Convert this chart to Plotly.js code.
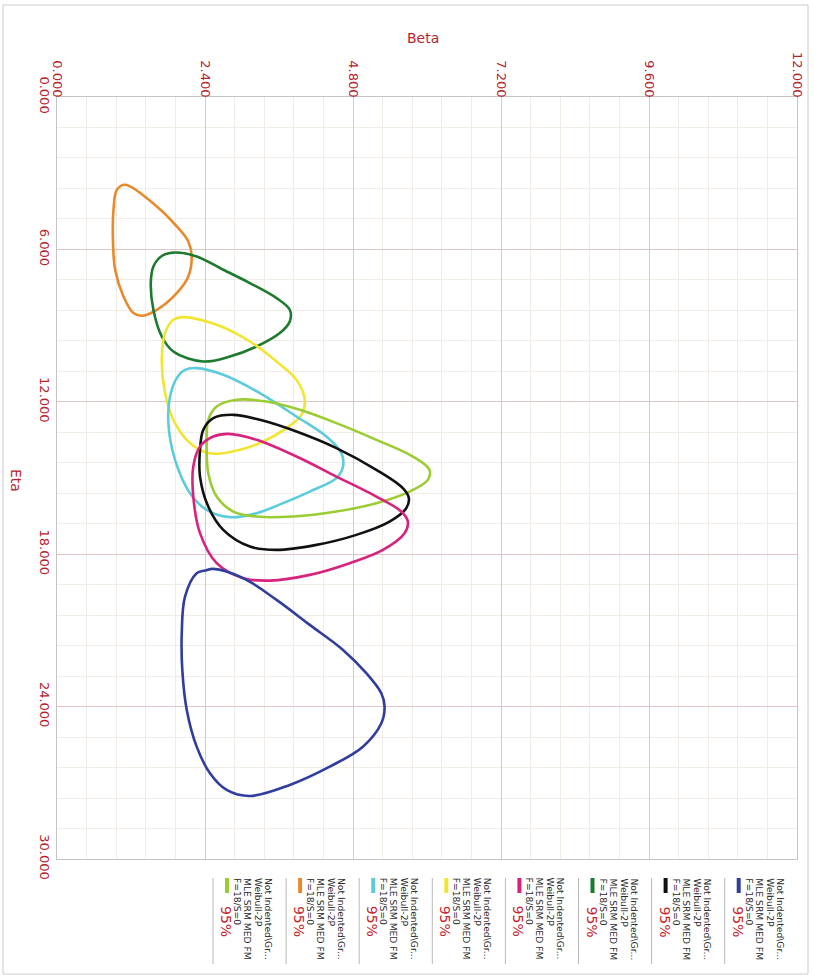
<!DOCTYPE html>
<html><head><meta charset="utf-8">
<script src="https://cdn.plot.ly/plotly-3.0.1.min.js"></script>
<style>html,body{margin:0;padding:0;background:#fff}</style>
</head><body><div id="chart" style="width:814px;height:975px"></div>
<script>
// ---- data: contour points (Beta, Eta) ----
const beta_orange = [1.105,1.618,1.942,2.129,2.184,2.129,1.942,1.618,1.375,1.239,1.078,0.943,0.906,0.916,0.971];
const eta_orange  = [3.454,4.309,5.096,5.687,6.278,7.066,7.720,8.377,8.614,8.507,7.853,6.802,5.490,4.439,3.651];

const beta_green = [1.914,2.265,2.696,3.128,3.560,3.775,3.775,3.613,3.236,2.804,2.372,1.887,1.699,1.563,1.521,1.563,1.704];
const eta_green  = [6.120,6.278,6.802,7.326,7.917,8.377,8.838,9.295,9.823,10.217,10.413,10.020,9.429,8.377,7.326,6.672,6.251];

const beta_yellow = [2.049,2.589,3.128,3.560,3.883,4.018,3.964,3.722,3.343,2.966,2.589,2.372,2.104,1.887,1.752,1.699,1.752,1.887];
const eta_yellow  = [8.665,8.968,9.626,10.413,11.134,11.922,12.513,13.037,13.564,13.891,14.049,13.958,13.497,12.710,11.658,10.347,9.295,8.771];

const beta_cyan = [2.265,2.696,3.290,3.883,4.369,4.612,4.638,4.531,4.099,3.667,3.236,2.804,2.427,2.157,1.914,1.806,1.833,1.942,2.076];
const eta_cyan  = [10.673,10.937,11.658,12.580,13.368,14.021,14.549,15.006,15.534,15.990,16.385,16.542,16.254,15.597,14.285,12.840,11.792,11.067,10.741];

const beta_lightgreen = [2.913,3.398,3.937,4.531,5.178,5.770,6.040,6.013,5.717,5.178,4.531,3.828,3.236,2.858,2.589,2.453,2.427,2.453,2.589];
const eta_lightgreen  = [11.922,11.989,12.316,12.840,13.497,14.155,14.679,15.073,15.534,15.990,16.321,16.518,16.518,16.321,15.731,14.809,13.627,12.710,12.186];

const beta_black = [2.858,3.290,3.883,4.531,5.178,5.608,5.706,5.663,5.393,4.854,4.207,3.560,3.128,2.696,2.453,2.319,2.319,2.372,2.534];
const eta_black  = [12.513,12.710,13.171,13.824,14.679,15.400,15.794,16.188,16.715,17.239,17.633,17.830,17.700,17.042,16.125,14.943,13.891,13.104,12.643];

const beta_magenta = [2.777,3.236,3.883,4.531,5.178,5.583,5.689,5.636,5.285,4.746,4.099,3.451,3.019,2.589,2.319,2.210,2.210,2.319,2.534];
const eta_magenta  = [13.261,13.497,14.155,14.943,15.731,16.321,16.715,17.172,17.830,18.354,18.814,19.039,18.944,18.354,17.172,15.731,14.549,13.761,13.368];

const beta_blue = [2.534,3.019,3.560,4.099,4.638,5.016,5.259,5.312,5.259,4.961,4.422,3.775,3.128,2.751,2.481,2.265,2.104,2.032,2.023,2.076,2.265,2.400];
const eta_blue  = [18.578,18.944,19.799,20.784,21.768,22.686,23.474,24.001,24.655,25.577,26.365,27.085,27.519,27.282,26.625,25.577,24.132,22.556,21.111,19.669,18.748,18.645];

// ---- axes ----
const betaTicks = [0, 2.4, 4.8, 7.2, 9.6, 12];
const betaTickText = ["0.000","2.400","4.800","7.200","9.600","12.000"];
const etaTicks = [0, 6, 12, 18, 24, 30];
const etaTickText = ["0.000","6.000","12.000","18.000","24.000","30.000"];

// ---- legend ----
const legendKeys = ["lightgreen","orange","cyan","yellow","magenta","green","black","blue"];
const legendLines = ["Not Indented\\Gr...","Weibull-2P","MLE SRM MED FM","F=18/S=0"];
const legendPct = "95%";

const colors = {
  orange:"#e8892c", green:"#1e7a2e", yellow:"#f2e532", cyan:"#5ccbdc",
  lightgreen:"#9acd32", black:"#111111", magenta:"#d8237e", blue:"#2f3d9e"
};
const series = {
  orange:[beta_orange,eta_orange], green:[beta_green,eta_green], yellow:[beta_yellow,eta_yellow],
  cyan:[beta_cyan,eta_cyan], lightgreen:[beta_lightgreen,eta_lightgreen], black:[beta_black,eta_black],
  magenta:[beta_magenta,eta_magenta], blue:[beta_blue,eta_blue]
};
const drawOrder = ["orange","green","yellow","cyan","lightgreen","black","magenta","blue"];

const traces = drawOrder.map(k => {
  const [b, e] = series[k];
  return {
    x: b.concat([b[0]]), y: e.concat([e[0]]),
    type: "scatter", mode: "lines",
    line: {color: colors[k], width: 2.6, shape: "spline", smoothing: 1},
    hoverinfo: "skip", showlegend: false
  };
});

// pixel -> paper helpers (layout positions only)
const L = 57, T = 97, W = 740, H = 762;
const PX = x => (x - L) / W;
const PY = y => 1 - (y - T) / H;

const red = "#b5232b";
const annotations = [];
const shapes = [];

// outer frame
shapes.push({type:"rect", xref:"paper", yref:"paper", x0:PX(3), x1:PX(808), y0:PY(974), y1:PY(5),
  line:{color:"#cccccc", width:1}, layer:"below"});

// axis titles
annotations.push({text:"Beta", xref:"paper", yref:"paper", x:PX(423), y:PY(38), xanchor:"center", yanchor:"middle",
  showarrow:false, font:{family:"DejaVu Sans", size:14, color:red}});
annotations.push({text:"Eta", xref:"paper", yref:"paper", x:PX(16), y:PY(480), xanchor:"center", yanchor:"middle",
  textangle:90, showarrow:false, font:{family:"DejaVu Sans", size:14, color:red}});

// legend
const lineOffsets = [56, 45.5, 35, 24.5];
legendKeys.forEach((k, i) => {
  const sep = 213 + 73.1 * i;
  shapes.push({type:"line", xref:"paper", yref:"paper", x0:PX(sep), x1:PX(sep), y0:PY(878), y1:PY(964),
    line:{color:"#b8b8b8", width:1}});
  shapes.push({type:"line", xref:"paper", yref:"paper", x0:PX(sep+14), x1:PX(sep+14), y0:PY(878), y1:PY(893),
    line:{color:colors[k], width:4}});
  legendLines.forEach((t, j) => {
    annotations.push({text:t, xref:"paper", yref:"paper", x:PX(sep + lineOffsets[j]), y:PY(877),
      xanchor:"center", yanchor:"top", textangle:90, showarrow:false, borderpad:0,
      font:{family:"DejaVu Sans", size:9.2, color:"#2a2a2a"}});
  });
  annotations.push({text:legendPct, xref:"paper", yref:"paper", x:PX(sep + 13.5), y:PY(905),
    xanchor:"center", yanchor:"top", textangle:90, showarrow:false, borderpad:0,
    font:{family:"DejaVu Sans", size:14, color:"#c4282e"}});
});

const axisCommon = {
  showgrid:true, gridcolor:"#dfc6c6", gridwidth:1,
  zeroline:false, showline:true, linecolor:"#c4c4c4", linewidth:1, mirror:true,
  ticks:"", tickangle:90,
  tickfont:{family:"DejaVu Sans", size:13, color:red},
  fixedrange:true
};

const layout = {
  width:814, height:975,
  margin:{l:L, r:814 - L - W, t:T, b:975 - T - H},
  paper_bgcolor:"#ffffff", plot_bgcolor:"#ffffff",
  showlegend:false,
  xaxis: Object.assign({}, axisCommon, {
    side:"top", range:[0,12], tickmode:"array", tickvals:betaTicks, ticktext:betaTickText,
    ticklabelstandoff:-6,
    minor:{dtick:0.48, tick0:0, showgrid:true, gridcolor:"#f1ece6", gridwidth:1, ticks:""}
  }),
  yaxis: Object.assign({}, axisCommon, {
    range:[30,0], tickmode:"array", tickvals:etaTicks, ticktext:etaTickText,
    minor:{dtick:1.2, tick0:0, showgrid:true, gridcolor:"#f1ece6", gridwidth:1, ticks:""}
  }),
  annotations: annotations,
  shapes: shapes
};

Plotly.newPlot("chart", traces, layout, {displayModeBar:false, staticPlot:true});
</script></body></html>
